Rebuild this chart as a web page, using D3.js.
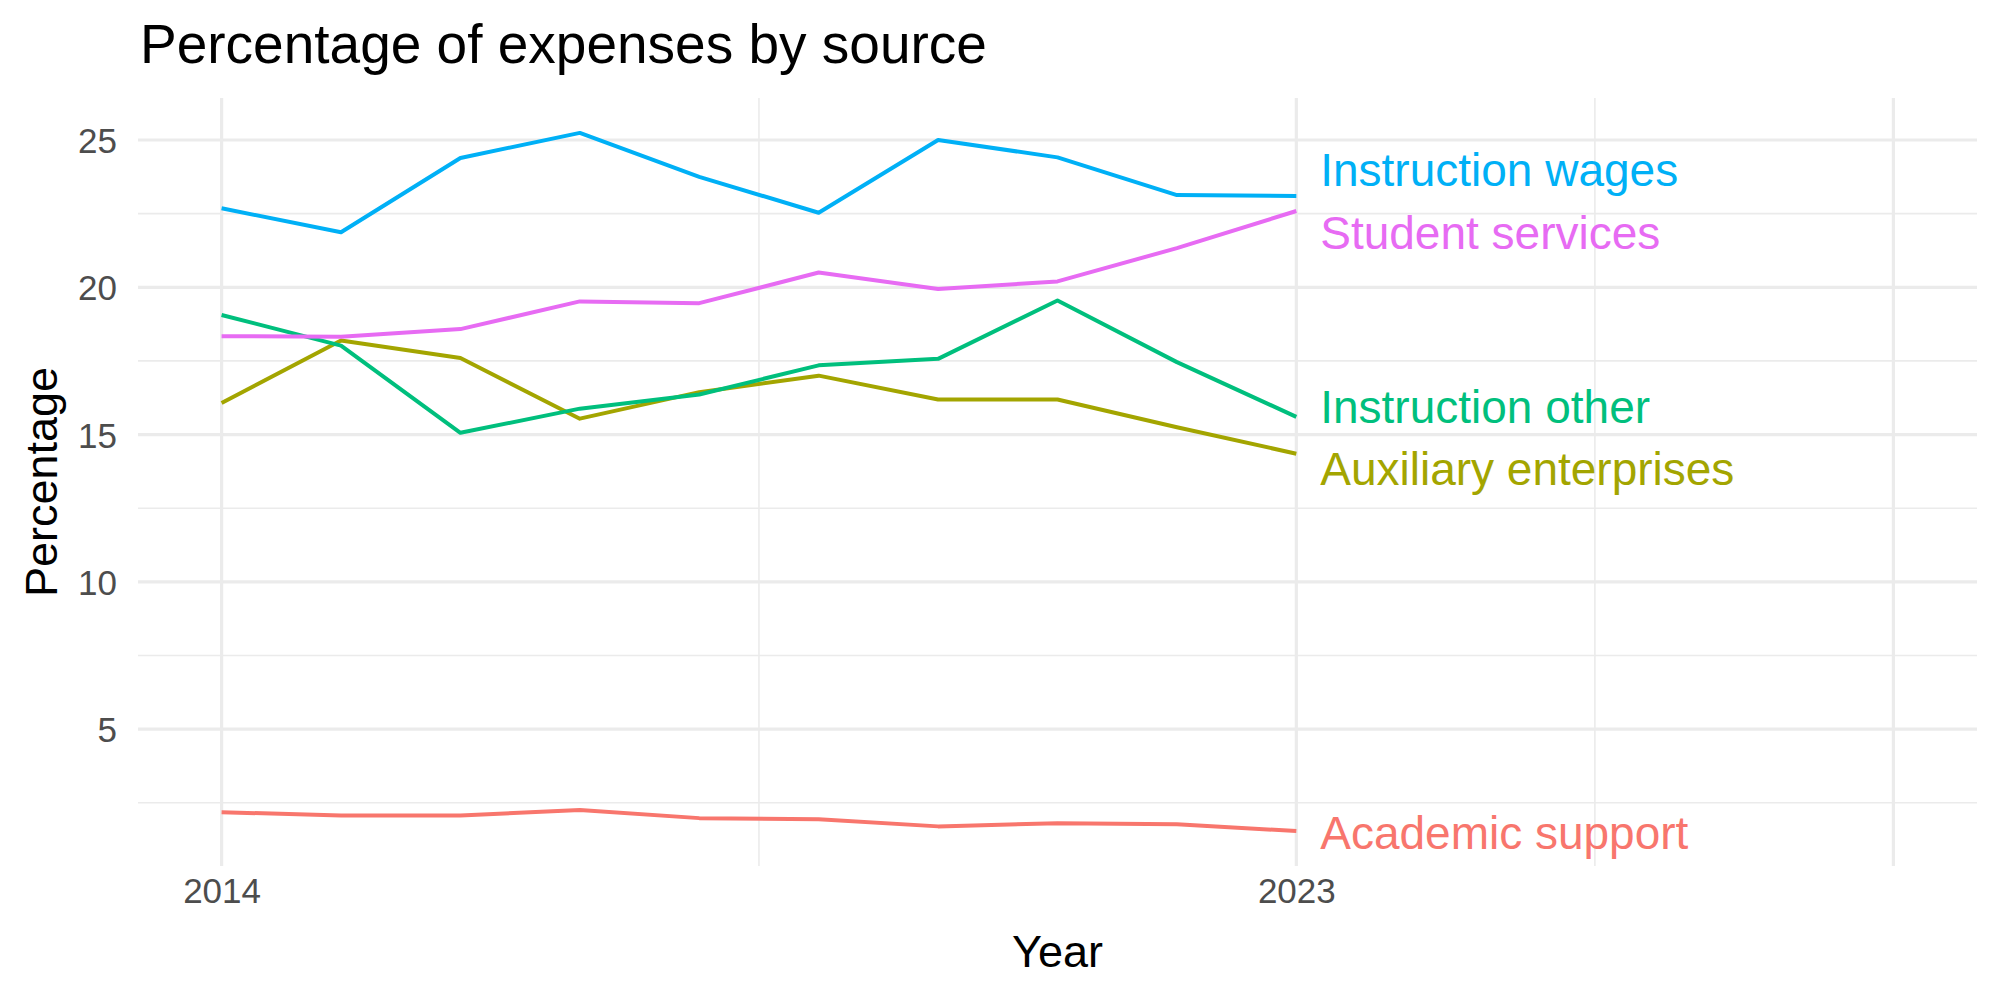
<!DOCTYPE html>
<html>
<head>
<meta charset="utf-8">
<script src="https://cdn.jsdelivr.net/npm/d3@7"></script>
<style>
  body { margin: 0; background: #fff; }
  text { font-family: "Liberation Sans", Arial, Helvetica, sans-serif; }
</style>
</head>
<body>
<script>
var svgWidth = 2000;
var svgHeight = 1000;

// data
var years = [2014, 2015, 2016, 2017, 2018, 2019, 2020, 2021, 2022, 2023];
var sources = ["Academic support", "Auxiliary enterprises", "Instruction other", "Instruction wages", "Student services"];
var academicSupport = [2.18, 2.07, 2.07, 2.26, 1.98, 1.94, 1.70, 1.81, 1.77, 1.54];
var auxiliaryEnterprises = [16.07, 18.19, 17.60, 15.54, 16.44, 17.00, 16.19, 16.19, 15.25, 14.35];
var instructionOther = [19.06, 18.02, 15.06, 15.88, 16.36, 17.35, 17.57, 19.55, 17.46, 15.60];
var instructionWages = [22.68, 21.87, 24.39, 25.24, 23.75, 22.53, 25.00, 24.41, 23.13, 23.10];
var studentServices = [18.34, 18.32, 18.58, 19.52, 19.46, 20.50, 19.94, 20.20, 21.33, 22.59];
var colors = ["#F8766D", "#A3A500", "#00BF7D", "#00B0F6", "#E76BF3"];

// end labels (repelled a little so they don't overlap)
var labelYear = 2023.2;
var labelValue = [1.48, 13.84, 15.96, 23.99, 21.85];

// axis breaks
var xLimits = [2014, 2028];
var xBreaks = [2014, 2023, 2028];
var xLabels = ["2014", "2023", ""];
var xMinor = [2018.5, 2025.5];
var yBreaks = [5, 10, 15, 20, 25];
var yMinor = [2.5, 7.5, 12.5, 17.5, 22.5];

var series = [academicSupport, auxiliaryEnterprises, instructionOther, instructionWages, studentServices];

var panel = { left: 138, right: 1977, top: 98, bottom: 866 };

var svg = d3.select("body").append("svg")
    .attr("width", svgWidth)
    .attr("height", svgHeight);

// ggplot-style 5% expansion
var xPad = (xLimits[1] - xLimits[0]) * 0.05;
var x = d3.scaleLinear()
    .domain([xLimits[0] - xPad, xLimits[1] + xPad])
    .range([panel.left, panel.right]);

var allVals = d3.merge(series);
var yExt = d3.extent(allVals);
var yPad = (yExt[1] - yExt[0]) * 0.05;
var y = d3.scaleLinear()
    .domain([yExt[0] - yPad, yExt[1] + yPad])
    .range([panel.bottom, panel.top]);

var grid = svg.append("g");

// minor grid
grid.selectAll(".ymin").data(yMinor).enter().append("line")
    .attr("x1", panel.left).attr("x2", panel.right)
    .attr("y1", d => y(d)).attr("y2", d => y(d))
    .attr("stroke", "#EBEBEB").attr("stroke-width", 1.6);
grid.selectAll(".xmin").data(xMinor).enter().append("line")
    .attr("x1", d => x(d)).attr("x2", d => x(d))
    .attr("y1", panel.top).attr("y2", panel.bottom)
    .attr("stroke", "#EBEBEB").attr("stroke-width", 1.6);

// major grid
grid.selectAll(".ymaj").data(yBreaks).enter().append("line")
    .attr("x1", panel.left).attr("x2", panel.right)
    .attr("y1", d => y(d)).attr("y2", d => y(d))
    .attr("stroke", "#EBEBEB").attr("stroke-width", 3.2);
grid.selectAll(".xmaj").data(xBreaks).enter().append("line")
    .attr("x1", d => x(d)).attr("x2", d => x(d))
    .attr("y1", panel.top).attr("y2", panel.bottom)
    .attr("stroke", "#EBEBEB").attr("stroke-width", 3.2);

// axes (text only, like theme_minimal)
var yAxis = svg.append("g")
    .attr("transform", `translate(${panel.left},0)`)
    .call(d3.axisLeft(y).tickValues(yBreaks).tickSize(0).tickPadding(21));
var xAxis = svg.append("g")
    .attr("transform", `translate(0,${panel.bottom})`)
    .call(d3.axisBottom(x).tickValues(xBreaks).tickSize(0).tickPadding(12)
        .tickFormat((d, i) => xLabels[i]));
[yAxis, xAxis].forEach(a => {
    a.select(".domain").remove();
    a.selectAll("text")
        .attr("fill", "#4D4D4D")
        .style("font-size", "35px")
        .style("font-family", "'Liberation Sans', Arial, sans-serif");
});
yAxis.selectAll("text").attr("dy", "0.36em");
xAxis.selectAll("text").attr("dy", "0.72em");

// lines
var line = d3.line()
    .x((d, i) => x(years[i]))
    .y(d => y(d));

svg.append("g").selectAll("path")
    .data(series)
    .enter().append("path")
    .attr("d", d => line(d))
    .attr("fill", "none")
    .attr("stroke", (d, i) => colors[i])
    .attr("stroke-width", 4)
    .attr("stroke-linejoin", "round");

// end labels
svg.append("g").selectAll("text")
    .data(sources)
    .enter().append("text")
    .attr("x", x(labelYear))
    .attr("y", (d, i) => y(labelValue[i]))
    .attr("dy", "0.36em")
    .attr("fill", (d, i) => colors[i])
    .style("font-size", "46px")
    .text(d => d);

// titles
svg.append("text")
    .attr("x", 140)
    .attr("y", 63)
    .style("font-size", "55px")
    .attr("fill", "#000")
    .text("Percentage of expenses by source");

svg.append("text")
    .attr("x", (panel.left + panel.right) / 2)
    .attr("y", 967)
    .attr("text-anchor", "middle")
    .style("font-size", "45px")
    .attr("fill", "#000")
    .text("Year");

svg.append("text")
    .attr("transform", `translate(57,${(panel.top + panel.bottom) / 2}) rotate(-90)`)
    .attr("text-anchor", "middle")
    .style("font-size", "45px")
    .attr("fill", "#000")
    .text("Percentage");
</script>
</body>
</html>
